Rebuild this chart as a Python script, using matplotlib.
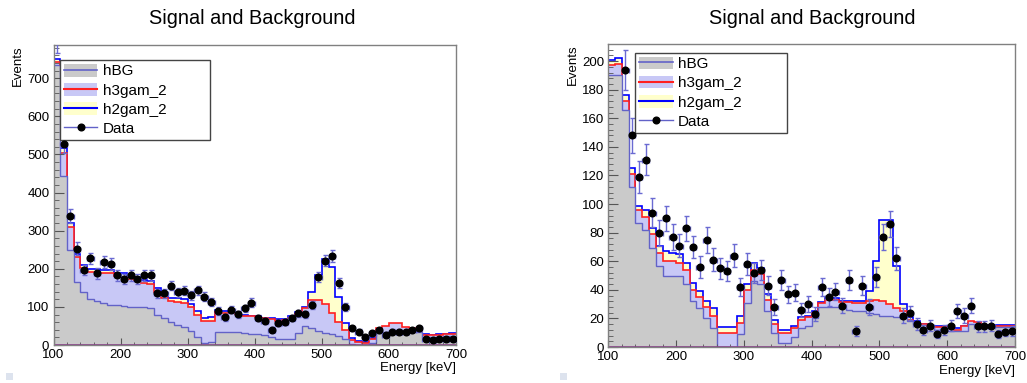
import numpy as np
import matplotlib
matplotlib.use('Agg')
import matplotlib.pyplot as plt
from matplotlib.patches import Patch, Rectangle
from matplotlib.lines import Line2D
from matplotlib.legend_handler import HandlerTuple
from matplotlib.ticker import MultipleLocator

plt.rcParams['font.family'] = ['Liberation Sans', 'DejaVu Sans']

# ----------------------------------------------------------------------------------------------------------------------
# data (10 keV bins from 100 to 700 keV)
bin_edges = np.arange(100, 701, 10)
bin_centers = bin_edges[:-1] + 5

# left panel: cumulative stack levels (hBG, hBG+h3gam_2, hBG+h3gam_2+h2gam_2)
left_bg = [735, 443, 249, 164, 140, 121, 116, 109, 106, 104, 102, 100, 100, 100, 96, 80, 70, 60, 52, 48,
           38, 22, 5, 8, 35, 35, 34, 33, 31, 30, 28, 25, 21, 17, 16, 17, 31, 50, 44, 38,
           31, 28, 24, 17, 3, 1, 1, 5, 31, 33, 38, 40, 38, 36, 34, 22, 20, 22, 23, 24]
left_bg_h3 = [743, 504, 310, 230, 201, 192, 192, 190, 188, 181, 179, 172, 170, 162, 160, 140, 122, 115, 114, 111,
              100, 80, 62, 64, 86, 85, 83, 81, 76, 75, 73, 70, 67, 64, 65, 71, 82, 96, 119, 119,
              108, 84, 60, 40, 14, 7, 5, 15, 44, 50, 58, 58, 46, 44, 40, 27, 26, 27, 28, 29]
left_total = [750, 516, 321, 240, 211, 200, 200, 197, 196, 188, 188, 179, 178, 170, 168, 149, 135, 124, 123, 120,
              108, 90, 72, 73, 92, 90, 87, 85, 79, 77, 76, 72, 70, 67, 67, 75, 86, 100, 138, 183,
              226, 205, 127, 57, 19, 11, 8, 18, 40, 44, 49, 48, 44, 42, 39, 28, 27, 28, 30, 31]
left_data = [800, 527, 338, 253, 197, 227, 188, 218, 212, 183, 172, 183, 172, 183, 183, 136, 136, 155, 138, 142,
             130, 143, 127, 112, 90, 73, 93, 81, 96, 111, 70, 64, 40, 57, 61, 72, 83, 81, 105, 179,
             221, 234, 162, 100, 44, 35, 22, 31, 39, 26, 35, 35, 35, 39, 44, 17, 13, 17, 17, 17]
left_err = [35, 23, 18, 16, 14, 15, 14, 15, 15, 14, 13, 14, 13, 14, 14, 12, 12, 12, 12, 12,
            11, 12, 11, 11, 10, 9, 10, 9, 10, 11, 8, 8, 6, 8, 8, 8, 9, 9, 10, 13,
            15, 15, 13, 10, 7, 6, 5, 6, 6, 5, 6, 6, 6, 6, 7, 4, 4, 4, 4, 4]

# right panel
right_bg = [190, 190, 166, 112, 87, 82, 69, 57, 50, 50, 50, 44, 32, 27, 20, 13, 0, 0, 0, 9,
            31, 46, 44, 25, 10, 3, 3, 7, 13, 15, 20, 28, 28, 28, 27, 26, 25, 25, 24, 23,
            22, 22, 21, 20, 18, 16, 14, 13, 12, 12, 11, 11, 11.5, 16, 16, 14, 14, 14, 14, 14]
right_bg_h3 = [197, 198, 172, 121, 96, 91, 79, 66, 60, 60, 59, 54, 40, 35, 28, 22, 10, 10, 10, 17,
               40, 54, 51, 33, 16, 10, 10, 13, 19, 21, 24, 30.5, 33, 33, 31.5, 31.5, 31, 31, 32, 33,
               32, 30, 27, 25, 19, 17, 16, 15, 14, 14, 13, 12, 14.5, 18, 17.5, 15, 15, 15, 15, 15]
right_total = [201, 202, 176, 125, 99, 96, 83, 71, 67, 66, 65, 59, 45, 39, 32, 27, 14, 14, 14, 22,
               44, 59, 55, 37, 19, 12, 12, 15, 21, 22, 25, 31.5, 34.5, 34, 32.5, 32.5, 32.5, 32.5, 39, 60,
               89, 89, 57, 30, 21, 18, 16, 15, 14.5, 14.5, 14, 13, 15, 17, 16.6, 15.5, 15.5, 15.5, 15.5, 15.5]
right_data = [240, 235, 194, 148, 119, 131, 94, 80, 90, 77, 71, 83, 70, 56, 75, 61, 55, 53, 64, 42,
              58, 52, 54, 43, 28, 47, 37, 38, 26, 30, 23, 42, 35, 38.7, 29, 47, 11.5, 43, 28, 49,
              77, 86, 62, 22, 24, 16, 12, 15, 9, 12, 15, 25, 22, 29, 14.5, 14.5, 15, 9, 10.8, 11.3]
right_err = [15, 15, 14, 12, 11, 11, 10, 9, 9, 9, 8, 9, 8, 7.5, 9, 8, 7.5, 7, 8, 6.5,
             7.5, 7, 7, 6.5, 5.5, 7, 6, 6, 5, 5.5, 5, 6.5, 6, 6, 5.5, 7, 3.5, 6.5, 5.5, 7,
             9, 9, 8, 5, 5, 4, 3.5, 4, 3, 3.5, 4, 5, 5, 5.5, 4, 4, 4, 3, 3.3, 3.4]

legend_labels = ['hBG', 'h3gam_2', 'h2gam_2', 'Data']
title_text = 'Signal and Background'
x_label = 'Energy [keV]'
y_label = 'Events'

# colors
col_gray = '#cacaca'
col_lav = '#c8c8f6'
col_yel = '#ffffcc'
col_bgline = '#6262c8'
col_red = '#ff2020'
col_blue = '#0000ff'
col_err = '#6a6ad2'
col_frame = '#808080'
# ----------------------------------------------------------------------------------------------------------------------


# ----------------------------------------------------------------------------------------------------------------------
# method to draw one panel
def draw_panel(ax, bg, bg_h3, total, data, err, ymax, ymaj, ymin, leg_box):

    # stacked histograms (drawn from the top sum down, as ROOT does)
    ax.stairs(total, bin_edges, fill=True, facecolor=col_yel, edgecolor='none', baseline=0)
    ax.stairs(total, bin_edges, baseline=None, color=col_blue, lw=1.2)
    ax.stairs(bg_h3, bin_edges, fill=True, facecolor=col_lav, edgecolor='none', baseline=0)
    ax.stairs(bg_h3, bin_edges, baseline=None, color=col_red, lw=1.2)
    ax.stairs(bg, bin_edges, fill=True, facecolor=col_gray, edgecolor='none', baseline=0)
    ax.stairs(bg, bin_edges, baseline=None, color=col_bgline, lw=1.0)
    ax.axhline(0, color='#8a3a8a', lw=1.2)

    # data points
    ax.errorbar(bin_centers, data, yerr=err, xerr=5, fmt='o', ms=4.8, mfc='black', mec='black',
                ecolor=col_err, elinewidth=1.0, capsize=1.8, capthick=1.0, zorder=5)

    ax.set_xlim(100, 700)
    ax.set_ylim(0, ymax)
    ax.xaxis.set_major_locator(MultipleLocator(100))
    ax.xaxis.set_minor_locator(MultipleLocator(20))
    ax.yaxis.set_major_locator(MultipleLocator(ymaj))
    ax.yaxis.set_minor_locator(MultipleLocator(ymin))
    ax.tick_params(axis='both', which='both', direction='in', top=False, right=False,
                   colors='#555555', labelcolor='black', labelsize=9.5)
    ax.tick_params(axis='y', which='major', length=7, pad=3)
    ax.tick_params(axis='y', which='minor', length=3.5)
    ax.tick_params(axis='x', which='major', length=5, pad=3)
    ax.tick_params(axis='x', which='minor', length=2.5)
    for sp in ax.spines.values():
        sp.set_color(col_frame)
        sp.set_linewidth(1.0)

    ax.text(1.0, -0.078, x_label, transform=ax.transAxes, ha='right', va='center', fontsize=9.5)
    ax.text(-0.088, 1.0, y_label, transform=ax.transAxes, ha='center', va='top', rotation=90, fontsize=9.5)

    # legend
    h_bg = (Patch(facecolor=col_gray, edgecolor='none'), Line2D([], [], color=col_bgline, lw=1.2))
    h_h3 = (Patch(facecolor=col_lav, edgecolor='none'), Line2D([], [], color=col_red, lw=1.5))
    h_h2 = (Patch(facecolor=col_yel, edgecolor='none'), Line2D([], [], color=col_blue, lw=1.5))
    h_dt = Line2D([], [], color=col_bgline, lw=1.0, marker='o', ms=4.8, mfc='black', mec='black')
    leg = ax.legend([h_bg, h_h3, h_h2, h_dt], legend_labels, handler_map={tuple: HandlerTuple(ndivide=1)},
                    loc='upper left', bbox_to_anchor=leg_box, mode='expand', borderaxespad=0,
                    fontsize=11, handlelength=2.2, handleheight=0.9, handletextpad=0.35,
                    labelspacing=0.3, borderpad=0.25, fancybox=False, framealpha=1)
    leg.get_frame().set_edgecolor('#444444')
    leg.get_frame().set_linewidth(1.0)
# ----------------------------------------------------------------------------------------------------------------------


# ----------------------------------------------------------------------------------------------------------------------
# figure
fig = plt.figure(figsize=(10.27, 3.83), dpi=100)
ax_l = fig.add_axes([53.5 / 1027, 38 / 383, 402.5 / 1027, 300 / 383])
ax_r = fig.add_axes([608.3 / 1027, 36 / 383, 406.7 / 1027, 303 / 383])

draw_panel(ax_l, left_bg, left_bg_h3, left_total, left_data, left_err, 787, 100, 20,
           (0.016, 0.687, 0.373, 0.263))
draw_panel(ax_r, right_bg, right_bg_h3, right_total, right_data, right_err, 212, 20, 4,
           (0.066, 0.707, 0.373, 0.264))

fig.text(252 / 1027, 1 - 18 / 383, title_text, ha='center', va='center', fontsize=14.3)
fig.text(812 / 1027, 1 - 18 / 383, title_text, ha='center', va='center', fontsize=14.3)

# small marks in the bottom-left corners of the two canvases
for x0 in (6, 560):
    fig.patches.append(Rectangle((x0 / 1027, 3 / 383), 7 / 1027, 7 / 383, transform=fig.transFigure,
                                 facecolor='#dde3ee', edgecolor='none'))

fig.savefig('out.png', dpi=100, facecolor='white')
# ----------------------------------------------------------------------------------------------------------------------
